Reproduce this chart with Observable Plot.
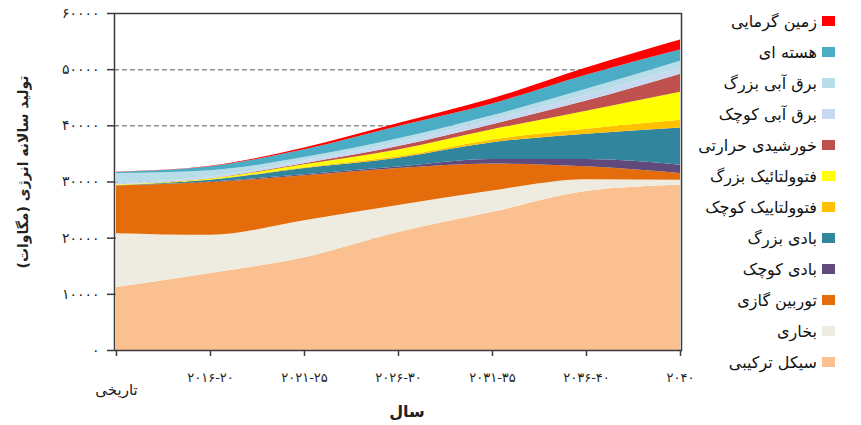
<!DOCTYPE html>
<html>
<head>
<meta charset="utf-8">
<script src="https://cdn.jsdelivr.net/npm/d3@7"></script>
<script src="https://cdn.jsdelivr.net/npm/@observablehq/plot@0.6"></script>
<style>
  body { margin: 0; background: #fff; font-family: "DejaVu Sans", sans-serif; }
  #wrap { position: relative; width: 861px; height: 425px; overflow: hidden; }
  #legend { position: absolute; left: 0; top: 0; }
  .item { position: absolute; right: 26px; display: flex; flex-direction: row; align-items: center; direction: rtl; white-space: nowrap; }
  .sw { width: 13px; height: 10px; margin-left: 5px; }
  .lbl { font-size: 16px; color: #111; }
</style>
</head>
<body>
<div id="wrap"></div>
<script>
// Categories (x) — these are also the x tick labels
const periods = ["تاریخی", "۲۰۱۶-۲۰", "۲۰۲۱-۲۵", "۲۰۲۶-۳۰", "۲۰۳۱-۳۵", "۲۰۳۶-۴۰", "۲۰۴۰"];

// Series values (MW), stacked bottom → top
const combinedCycle = [11200, 13700, 16500, 21000, 24600, 28300, 29400];
const steam         = [9600, 6800, 6600, 4800, 3800, 2100, 900];
const gasTurbine    = [8500, 9400, 8000, 6600, 4800, 2300, 1200];
const smallWind     = [0, 100, 200, 250, 800, 1300, 1500];
const largeWind     = [50, 300, 1100, 1600, 3000, 4500, 6600];
const smallPV       = [50, 50, 150, 250, 500, 900, 1400];
const largePV       = [100, 200, 500, 1200, 1800, 3200, 5000];
const solarThermal  = [0, 50, 200, 600, 900, 1800, 3200];
const smallHydro    = [300, 300, 500, 700, 800, 1000, 1100];
const largeHydro    = [1700, 1100, 600, 700, 800, 1100, 1200];
const nuclear       = [200, 700, 1400, 2200, 2100, 2500, 2000];
const geothermal    = [50, 100, 300, 500, 900, 1300, 1800];

// Series names (bottom → top) and colours
const seriesNames = ["سیکل ترکیبی", "بخاری", "توربین گازی", "بادی کوچک", "بادی بزرگ", "فتوولتاییک کوچک",
  "فتوولتائیک بزرگ", "خورشیدی حرارتی", "برق آبی کوچک", "برق آبی بزرگ", "هسته ای", "زمین گرمایی"];
const seriesValues = [combinedCycle, steam, gasTurbine, smallWind, largeWind, smallPV,
  largePV, solarThermal, smallHydro, largeHydro, nuclear, geothermal];
const seriesColors = ["#fac090", "#eeece1", "#e46c0a", "#604a7b", "#31859c", "#ffc000",
  "#ffff00", "#c0504d", "#c6d9f1", "#b7dee8", "#4bacc6", "#ff0000"];

// Y ticks and labels
const yTicks = [0, 10000, 20000, 30000, 40000, 50000, 60000];
const yTickLabels = ["۰", "۱۰۰۰۰", "۲۰۰۰۰", "۳۰۰۰۰", "۴۰۰۰۰", "۵۰۰۰۰", "۶۰۰۰۰"];
const gridValues = [10000, 20000, 30000, 40000, 50000];

const yTitle = "تولید سالانه انرژی (مگاوات)";
const xTitle = "سال";

const rows = [];
seriesNames.forEach((name, i) => {
  periods.forEach((p, j) => rows.push({period: p, source: name, value: seriesValues[i][j]}));
});

const chart = Plot.plot({
  width: 861,
  height: 425,
  marginLeft: 114,
  marginRight: 180,
  marginTop: 13,
  marginBottom: 75,
  style: {fontFamily: "DejaVu Sans, sans-serif", fontSize: "12px", color: "#222", background: "transparent"},
  x: {type: "point", domain: periods, padding: 0, label: null},
  y: {domain: [0, 60000], label: null},
  color: {domain: seriesNames, range: seriesColors},
  marks: [
    Plot.ruleY(gridValues, {stroke: "#8c8c8c", strokeWidth: 1.5, strokeDasharray: "5,3"}),
    Plot.areaY(rows, {x: "period", y: "value", fill: "source", order: seriesNames, curve: "monotone-x"}),
    Plot.frame({stroke: "#3a3a3a", strokeWidth: 1.5}),
    Plot.axisY({ticks: yTicks, tickFormat: d => yTickLabels[yTicks.indexOf(d)], tickSize: 7, tickPadding: 8, fontSize: 14, stroke: "#3a3a3a", strokeWidth: 1.5, label: null}),
    Plot.axisX({ticks: periods, tickFormat: d => d === periods[0] ? "" : d, tickSize: 6, tickPadding: 16, fontSize: 13, stroke: "#3a3a3a", strokeWidth: 1.5, label: null}),
    Plot.text([periods[0]], {x: d => d, frameAnchor: "bottom", dy: 44, fontSize: 15, fill: "#222"})
  ]
});

const svg = d3.select(chart);
svg.selectAll('g[aria-label="y-axis tick label"] text').style("letter-spacing", "2.5px");
svg.selectAll('g[aria-label="x-axis tick label"] text').style("letter-spacing", "1px");
svg.append("text")
  .attr("transform", "translate(24,172) rotate(-90)")
  .attr("text-anchor", "middle")
  .attr("direction", "rtl")
  .attr("dominant-baseline", "middle")
  .style("font-size", "14px")
  .style("font-weight", "bold")
  .attr("fill", "#222")
  .text(yTitle);
svg.append("text")
  .attr("x", 407)
  .attr("y", 412)
  .attr("text-anchor", "middle")
  .attr("direction", "rtl")
  .attr("dominant-baseline", "middle")
  .style("font-size", "16px")
  .style("font-weight", "bold")
  .attr("fill", "#222")
  .text(xTitle);

const wrap = document.getElementById("wrap");
wrap.appendChild(chart);

const legend = document.createElement("div");
legend.id = "legend";
legend.style.width = "861px";
const legendOrder = seriesNames.map((n, i) => i).reverse();
legendOrder.forEach((idx, k) => {
  const item = document.createElement("div");
  item.className = "item";
  item.style.top = (21 + k * 31 - 10) + "px";
  item.style.height = "20px";
  const sw = document.createElement("span");
  sw.className = "sw";
  sw.style.background = seriesColors[idx];
  const lbl = document.createElement("span");
  lbl.className = "lbl";
  lbl.textContent = seriesNames[idx];
  item.appendChild(sw);
  item.appendChild(lbl);
  legend.appendChild(item);
});
wrap.appendChild(legend);
</script>
</body>
</html>
